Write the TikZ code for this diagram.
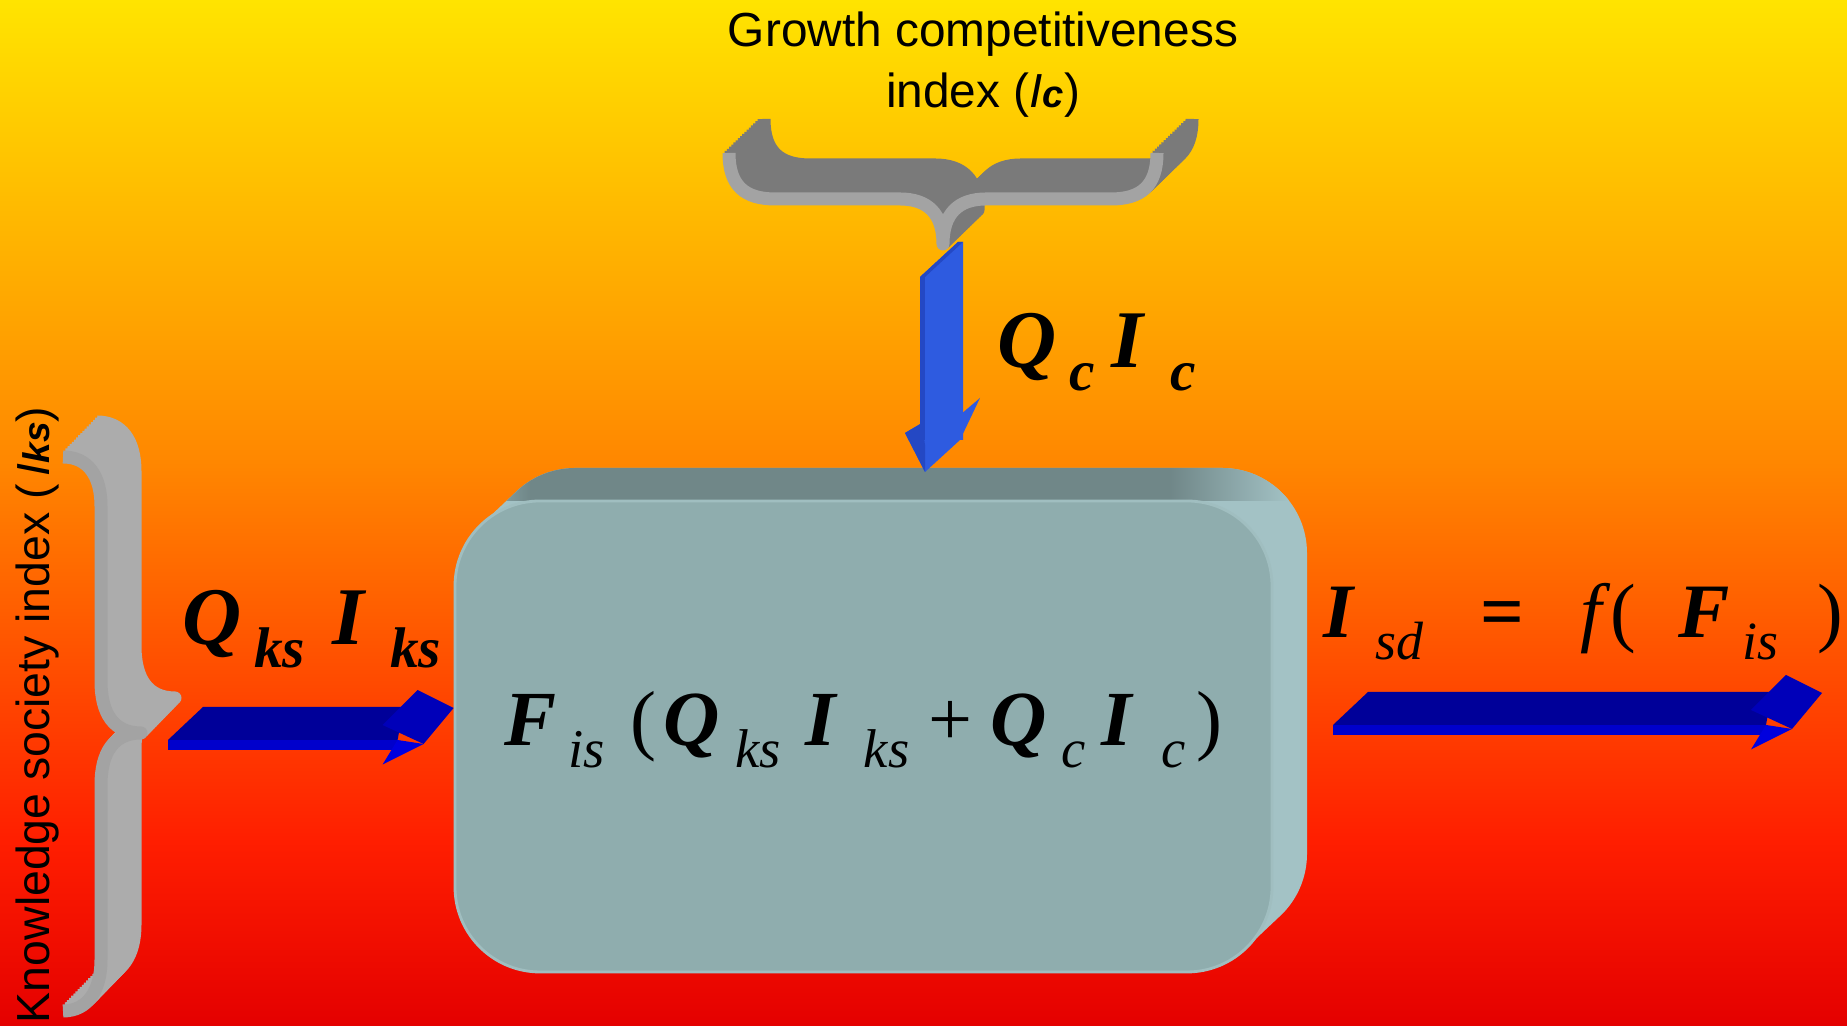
\documentclass[tikz,border=0pt]{standalone}
\usepackage{fontspec}
\usepackage{graphicx}
\setmainfont{Liberation Sans}
\newfontfamily\formfont{Liberation Serif}
\usetikzlibrary{calc}

\definecolor{sun0}{RGB}{228,0,0}
\definecolor{sun1}{RGB}{255,30,0}
\definecolor{sun2}{RGB}{255,135,0}
\definecolor{sun3}{RGB}{255,228,0}
\definecolor{boxfront}{RGB}{143,173,174}
\definecolor{boxtop}{RGB}{112,135,136}
\definecolor{boxside}{RGB}{163,194,197}
\definecolor{boxedge}{RGB}{160,190,192}
\definecolor{bracefront}{RGB}{163,163,163}
\definecolor{bracetop}{RGB}{122,122,122}
\definecolor{braceside}{RGB}{172,172,172}
\definecolor{navytop}{RGB}{0,0,153}
\definecolor{navyhead}{RGB}{0,0,185}
\definecolor{navyfront}{RGB}{0,0,204}
\definecolor{navybarb}{RGB}{0,0,222}
\definecolor{royal}{RGB}{46,91,224}
\definecolor{royaldark}{RGB}{36,72,196}

\pgfdeclareverticalshading{sunset}{100bp}{color(0bp)=(sun0); color(25bp)=(sun0); color(34bp)=(sun1); color(52.5bp)=(sun2); color(75bp)=(sun3); color(100bp)=(sun3)}

\newcommand{\lowsub}[1]{\raisebox{-0.28em}{\scalebox{0.7}{\textit{#1}}}}
\newcommand{\bsym}[3][0.17em]{\textbf{\textit{#2}}\hspace{#1}\lowsub{#3}}

\newcommand{\boxhull}{(4.799,5.001) -- (5.149,5.331) arc[start angle=135,end angle=90,radius=0.85] -- (12.22,5.58) arc[start angle=90,end angle=0,radius=0.85] -- (13.07,1.72) arc[start angle=0,end angle=-45,radius=0.85] -- (12.471,0.789) arc[start angle=-45,end angle=-90,radius=0.85] -- (5.40,0.54) arc[start angle=-90,end angle=-180,radius=0.85] -- (4.55,4.40) arc[start angle=180,end angle=135,radius=0.85] -- cycle}
\newcommand{\tbracepath}{(7.29,8.73) .. controls (7.29,8.40) and (7.45,8.27) .. (7.75,8.27) -- (9.00,8.27) .. controls (9.28,8.27) and (9.43,8.12) .. (9.43,7.82) .. controls (9.43,8.12) and (9.58,8.27) .. (9.86,8.27) -- (11.11,8.27) .. controls (11.41,8.27) and (11.57,8.40) .. (11.57,8.73)}
\newcommand{\lbracepath}{(0.63,5.69) .. controls (0.88,5.69) and (1.01,5.50) .. (1.01,5.20) -- (1.01,3.45) .. controls (1.01,3.12) and (1.14,2.93) .. (1.41,2.93) .. controls (1.14,2.93) and (1.01,2.74) .. (1.01,2.41) -- (1.01,0.66) .. controls (1.01,0.36) and (0.88,0.15) .. (0.63,0.15)}

% flat 3d arrow: #1 start on the front edge, #2 tip at the same height
\newcommand{\flatarrow}[2]{%
  \fill[navytop] (#1) -- ++(0.35,0.33) -- ($(#2)+(-0.50,0.33)$) -- ($(#2)+(-0.56,0)$) -- cycle;
  \fill[navyfront] (#1) -- ($(#2)+(-0.56,0)$) -- ($(#2)+(-0.56,-0.10)$) -- ($(#1)+(0,-0.10)$) -- cycle;
  \fill[navyhead] ($(#2)+(-0.71,0.15)$) -- ($(#2)+(-0.36,0.50)$) -- ($(#2)+(0,0.32)$) -- ($(#2)+(-0.30,-0.04)$) -- cycle;
  \fill[navybarb] ($(#2)+(-0.56,0)$) -- ($(#2)+(-0.71,-0.245)$) -- ($(#2)+(-0.30,-0.04)$) -- cycle;
}

\begin{document}
\begin{tikzpicture}[
  formula/.style={inner sep=0, anchor=base west},
  boxface/.style={draw=boxedge, line width=0.8pt, fill=boxfront, rounded corners=0.85cm,
    minimum width=8.17cm, minimum height=4.71cm, inner sep=0, text height=15.4pt, text depth=10pt},
  bracestroke/.style={line width=0.13cm, line join=round}
]
\useasboundingbox (0,0) rectangle (18.47,10.26);
\shade[shading=sunset] (0,0) rectangle (18.47,10.26);

% box
\fill[boxside] \boxhull;
\begin{scope}
\clip \boxhull;
\clip (4.4,5.25) rectangle (13.2,5.7);
\shade[left color=boxside, right color=boxtop] (4.5,5.25) rectangle (5.3,5.7);
\fill[boxtop] (5.3,5.25) rectangle (11.7,5.7);
\shade[left color=boxtop, right color=boxside] (11.7,5.25) rectangle (12.9,5.7);
\fill[boxside] (12.9,5.25) rectangle (13.2,5.7);
\end{scope}
\node[boxface, font=\formfont\fontsize{22.2}{26}\selectfont] (box) at (8.635,2.895)
  {\bsym[0.15em]{F}{is}\hspace{0.32em}(\hspace{0.10em}\bsym[0.19em]{Q}{ks}\hspace{0.32em}\bsym[0.33em]{I}{ks}\hspace{0.24em}+\hspace{0.23em}\bsym[0.19em]{Q}{c}\hspace{0.21em}\bsym[0.35em]{I}{c}\hspace{0.13em})};

% arrows
\coordinate (ks-start) at (1.68,2.86);
\coordinate (ks-end) at (box.west |- ks-start);
\flatarrow{ks-start}{ks-end}
\coordinate (sd-start) at (13.33,3.01);
\coordinate (sd-end) at (18.22,3.01);
\flatarrow{sd-start}{sd-end}

\coordinate (c-tip) at (9.25,5.54);
\fill[royal] ($(c-tip)+(-0.03,0.49)$) -- ($(c-tip)+(-0.20,0.39)$) -- (c-tip) -- ($(c-tip)+(0.35,0.32)$) -- ($(c-tip)+(0.55,0.74)$) -- ($(c-tip)+(0.35,0.57)$) -- cycle;
\fill[royaldark] ($(c-tip)+(-0.20,0.39)$) -- (c-tip) -- ($(c-tip)+(0,0.27)$) -- ($(c-tip)+(-0.03,0.49)$) -- cycle;
\fill[royal] ($(c-tip)+(-0.05,0.32)$) -- ($(c-tip)+(-0.05,1.95)$) -- ($(c-tip)+(0.33,2.30)$) -- ($(c-tip)+(0.38,2.30)$) -- ($(c-tip)+(0.38,0.32)$) -- cycle;
\fill[royaldark] ($(c-tip)+(-0.05,0.32)$) rectangle ($(c-tip)+(0,1.95)$);
\fill[royaldark] ($(c-tip)+(-0.05,1.95)$) -- ($(c-tip)+(0.33,2.30)$) -- ($(c-tip)+(0.38,2.30)$) -- ($(c-tip)+(0,1.95)$) -- cycle;

% braces
\foreach \k in {16,15,...,1}
  \draw[bracestroke, bracetop, shift={(0.35*\k/16,0.34*\k/16)}] \tbracepath;
\draw[bracestroke, bracefront] \tbracepath;
\foreach \k in {16,15,...,1}
  \draw[bracestroke, braceside, shift={(0.34*\k/16,0.35*\k/16)}] \lbracepath;
\draw[bracestroke, bracefront] \lbracepath;

% labels
\node[align=center, inner sep=0, font=\fontsize{13.6}{17.4}\selectfont] (c-name) at (9.83,9.61)
  {Growth competitiveness\\index (\textit{I}\scalebox{0.8}{\textbf{\textit{c}}})};
\node[rotate=90, anchor=base east, inner sep=0, font=\fontsize{13.2}{16}\selectfont] (ks-name) at (0.50,6.20)
  {Knowledge society index (\,\textit{I}\scalebox{0.8}{\textbf{\textit{ks}}})};
\node[formula, font=\formfont\bfseries\fontsize{23.3}{28}\selectfont] (ks-label) at (1.82,3.81)
  {\bsym[0.15em]{Q}{ks}\hspace{0.33em}\bsym[0.29em]{I}{ks}};
\node[formula, font=\formfont\bfseries\fontsize{23.3}{28}\selectfont] (c-label) at (9.97,6.58)
  {\bsym[0.15em]{Q}{c}\hspace{0.21em}\bsym[0.30em]{I}{c}};
\node[formula, font=\formfont\fontsize{21.9}{26}\selectfont] (sd-label) at (13.23,3.88)
  {\bsym[0.26em]{I}{sd}\hspace{0.73em}\textbf{=}\hspace{0.73em}\textit{f}(\hspace{0.55em}\bsym[0.17em]{F}{is}\hspace{0.5em})};
\end{tikzpicture}
\end{document}
